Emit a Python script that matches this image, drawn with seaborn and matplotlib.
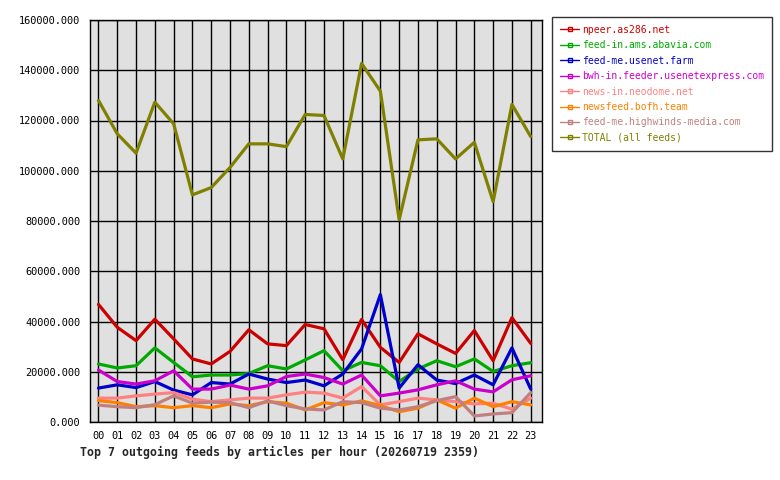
import numpy as np
import pandas as pd
import matplotlib
matplotlib.use("Agg")
import matplotlib.pyplot as plt
from matplotlib.lines import Line2D
from matplotlib.ticker import FormatStrFormatter
import seaborn as sns

# hours of the day
hours = [f"{h:02d}" for h in range(24)]

feeds = [
    "npeer.as286.net",
    "feed-in.ams.abavia.com",
    "feed-me.usenet.farm",
    "bwh-in.feeder.usenetexpress.com",
    "news-in.neodome.net",
    "newsfeed.bofh.team",
    "feed-me.highwinds-media.com",
    "TOTAL (all feeds)",
]
feed_colors = ["#cc0000", "#00aa00", "#0000cc", "#cc00cc",
               "#ff8080", "#ff8000", "#c08080", "#808000"]

npeer = [46800, 37700, 32400, 40900, 33100, 25100, 23100, 28100, 36700, 31100, 30400, 38800,
         37100, 24800, 40800, 29700, 23700, 35100, 31100, 27300, 36400, 24400, 41500, 31300]
abavia = [23100, 21500, 22400, 29500, 23700, 18000, 18700, 18700, 19300, 22400, 21100, 24700,
          28400, 20400, 23700, 22400, 16100, 21100, 24400, 22000, 25100, 20100, 22400, 23600]
usenet_farm = [13500, 14800, 13700, 16100, 12700, 10800, 15700, 15100, 19100, 17100, 15700, 16700,
               14400, 19100, 29100, 50700, 13500, 22800, 16700, 15300, 18700, 14800, 29500, 13100]
bwh = [20700, 16100, 15100, 16400, 20400, 13100, 13100, 14700, 13100, 14400, 18100, 19100,
       17700, 15100, 18700, 10400, 11500, 12800, 14800, 16400, 13100, 12000, 16800, 18400]
neodome = [9500, 9500, 10400, 11100, 11700, 9100, 8100, 8800, 9500, 9500, 10800, 11900,
           11500, 9500, 14100, 6800, 8100, 9500, 8800, 8100, 7200, 7500, 5100, 9500]
bofh = [8500, 7700, 6100, 6500, 5700, 6500, 5700, 7200, 6500, 8100, 7500, 4800,
        7700, 6800, 8400, 6500, 4100, 5500, 8800, 5500, 9500, 6100, 8100, 6800]
highwinds = [6700, 6100, 5700, 6900, 10400, 7500, 7900, 7700, 5700, 8400, 6500, 5200,
             4800, 8100, 7700, 5500, 4800, 6100, 8500, 10100, 2400, 3200, 3700, 11700]
total = [128000, 114700, 107000, 127300, 118700, 90400, 93300, 101300, 110700, 110700, 109600, 122400,
         122000, 104700, 142700, 131700, 80500, 112300, 112700, 104700, 111300, 87700, 126400, 113600]

series = [npeer, abavia, usenet_farm, bwh, neodome, bofh, highwinds, total]

rows = []
for name, vals in zip(feeds, series):
    for i, v in enumerate(vals):
        rows.append({"hour": i, "feed": name, "articles": v})
df = pd.DataFrame(rows)

sns.set_style("white")
plt.rcParams["font.family"] = ["DejaVu Sans Mono"]

fig = plt.figure(figsize=(7.8, 4.8), dpi=100)
ax = fig.add_axes([90 / 780, 1 - 422 / 480, 452 / 780, 402 / 480])
ax.set_facecolor("#e0e0e0")

sns.lineplot(data=df, x="hour", y="articles", hue="feed", hue_order=feeds,
             palette=feed_colors, linewidth=2.3, ax=ax, legend=False)

ax.set_xlim(-0.45, 23.6)
ax.set_ylim(0, 160000)
ax.set_xticks(range(24))
ax.set_xticklabels(hours)
ax.set_yticks(np.arange(0, 160001, 20000))
ax.yaxis.set_major_formatter(FormatStrFormatter("%.3f"))
ax.grid(True, color="black", linewidth=1.0)
ax.set_axisbelow(True)
for s in ax.spines.values():
    s.set_color("black")
    s.set_linewidth(1.0)
ax.tick_params(axis="both", direction="out", colors="black", labelsize=7.4, width=1.0)
ax.tick_params(axis="y", length=3.5, pad=3.5)
ax.tick_params(axis="x", length=6, pad=0.5)
ax.set_xlabel("")
ax.set_ylabel("")

handles = [Line2D([0], [0], color=c, linewidth=1.0, marker="s", markersize=2.5,
                  markerfacecolor="none", markeredgecolor=c) for c in feed_colors]
leg = fig.legend(handles, feeds, loc="upper left",
                 bbox_to_anchor=(552 / 780, 1 - 17 / 480), borderaxespad=0,
                 fontsize=7.0, frameon=True, fancybox=False, handlelength=2.0,
                 handletextpad=0.25, labelspacing=0.56, borderpad=0.8)
leg.get_frame().set_edgecolor("black")
leg.get_frame().set_linewidth(1.0)
for txt, c in zip(leg.get_texts(), feed_colors):
    txt.set_color(c)

fig.text(80 / 780, 1 - 452 / 480,
         "Top 7 outgoing feeds by articles per hour (20260719 2359)",
         fontsize=8.35, fontweight="bold", va="center", ha="left")

fig.savefig("out.png", dpi=100, facecolor="white")
